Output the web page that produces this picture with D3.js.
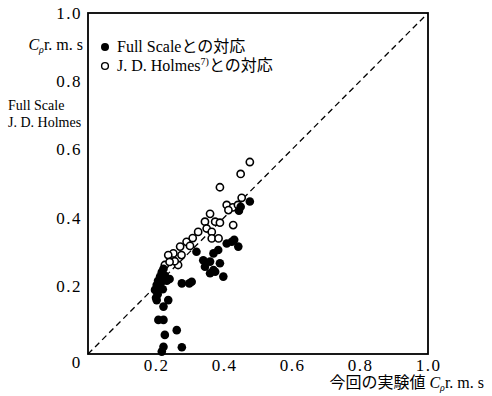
<!DOCTYPE html>
<html>
<head>
<meta charset="utf-8">
<script src="https://cdn.jsdelivr.net/npm/d3@7"></script>
<style>
  body { margin: 0; background: #fff; }
  svg, svg text, svg tspan { font-family: "Times New Roman", "Liberation Serif", "DejaVu Serif", serif; }
  .jp { font-family: "Times New Roman", "Liberation Serif", "DejaVu Serif", "Noto Sans CJK JP", serif; }
</style>
</head>
<body>
<svg id="chart"></svg>
<script>
// ---- data ----
const tickValues = [0.2, 0.4, 0.6, 0.8, 1.0];

// Full Scale (filled circles): [this experiment, full scale]
const fullScaleX = [0.476, 0.449, 0.444, 0.423, 0.442, 0.408, 0.430, 0.383, 0.369, 0.319, 0.339, 0.359,
  0.388, 0.344, 0.369, 0.359, 0.398, 0.374, 0.305, 0.276, 0.298, 0.197, 0.202, 0.212, 0.217, 0.222,
  0.206, 0.226, 0.232, 0.240, 0.215, 0.205, 0.220, 0.200, 0.202, 0.236, 0.222, 0.207, 0.222, 0.261,
  0.226, 0.222, 0.276, 0.217];
const fullScaleY = [0.447, 0.432, 0.420, 0.329, 0.315, 0.324, 0.335, 0.305, 0.295, 0.300, 0.275, 0.271,
  0.266, 0.256, 0.246, 0.237, 0.227, 0.241, 0.212, 0.207, 0.207, 0.188, 0.202, 0.227, 0.240, 0.250,
  0.215, 0.230, 0.215, 0.220, 0.210, 0.175, 0.190, 0.165, 0.158, 0.158, 0.139, 0.100, 0.100, 0.070,
  0.056, 0.021, 0.020, 0.007];

// J. D. Holmes (open circles)
const holmesX = [0.476, 0.449, 0.388, 0.452, 0.408, 0.426, 0.413, 0.441, 0.359, 0.344, 0.374, 0.388,
  0.427, 0.349, 0.364, 0.324, 0.364, 0.384, 0.290, 0.308, 0.271, 0.300, 0.251, 0.236, 0.275, 0.226,
  0.265, 0.255, 0.240];
const holmesY = [0.563, 0.528, 0.489, 0.458, 0.437, 0.430, 0.422, 0.437, 0.411, 0.388, 0.388, 0.385,
  0.378, 0.368, 0.358, 0.358, 0.339, 0.339, 0.329, 0.340, 0.315, 0.317, 0.295, 0.290, 0.290, 0.261,
  0.261, 0.272, 0.270];

const legendLabels = ["Full Scaleとの対応", "J. D. Holmes"];

// ---- layout ----
const svgWidth = 492, svgHeight = 396;
const margin = {top: 13, right: 64, bottom: 42, left: 88};
const width = svgWidth - margin.left - margin.right;
const height = svgHeight - margin.top - margin.bottom;

const svg = d3.select('#chart').attr('width', svgWidth).attr('height', svgHeight);
const chart = svg.append('g').attr('transform', `translate(${margin.left}, ${margin.top})`);

const xScale = d3.scaleLinear().domain([0, 1]).range([0, width]);
const yScale = d3.scaleLinear().domain([0, 1]).range([height, 0]);

/*********** axes (labels only, no tick marks) ***********/
const fmt = d3.format('.1f');
const xAxis = chart.append('g')
  .attr('transform', `translate(0, ${height})`)
  .call(d3.axisBottom(xScale).tickValues(tickValues).tickSize(0).tickPadding(5).tickFormat(fmt));
const yAxis = chart.append('g')
  .call(d3.axisLeft(yScale).tickValues(tickValues).tickSize(0).tickPadding(6).tickFormat(fmt));
[xAxis, yAxis].forEach(a => {
  a.attr('font-family', null).attr('font-size', null);
  a.select('.domain').remove();
  a.selectAll('text')
    .style('font-size', '17px')
    .style('letter-spacing', '1.5px');
});

// origin label
chart.append('text')
  .attr('x', xScale(0) - 12)
  .attr('y', yScale(0) + 14)
  .attr('text-anchor', 'middle')
  .style('font-size', '17px')
  .text('0');

/*********** frame ***********/
chart.append('rect')
  .attr('x', 0).attr('y', 0)
  .attr('width', width).attr('height', height)
  .attr('fill', 'none')
  .attr('stroke', '#000')
  .attr('stroke-width', 1.8);

/*********** 1:1 line ***********/
chart.append('line')
  .attr('x1', xScale(0)).attr('y1', yScale(0))
  .attr('x2', xScale(1)).attr('y2', yScale(1))
  .attr('stroke', '#000')
  .attr('stroke-width', 1.3)
  .attr('stroke-dasharray', '6 4');

/*********** points ***********/
chart.append('g').selectAll('circle')
  .data(d3.range(holmesX.length))
  .join('circle')
  .attr('cx', i => xScale(holmesX[i]))
  .attr('cy', i => yScale(holmesY[i]))
  .attr('r', 3.6)
  .attr('fill', '#fff')
  .attr('stroke', '#000')
  .attr('stroke-width', 1.6);

chart.append('g').selectAll('circle')
  .data(d3.range(fullScaleX.length))
  .join('circle')
  .attr('cx', i => xScale(fullScaleX[i]))
  .attr('cy', i => yScale(fullScaleY[i]))
  .attr('r', 4.3)
  .attr('fill', '#000');

/*********** legend ***********/
const legend = chart.append('g').attr('transform', 'translate(17, 34)');
legend.append('circle').attr('cx', 0).attr('cy', 0).attr('r', 4).attr('fill', '#000');
legend.append('text').attr('class', 'jp').attr('x', 12).attr('y', 5).style('font-size', '16px').text(legendLabels[0]);
legend.append('circle').attr('cx', 0).attr('cy', 19).attr('r', 3.4)
  .attr('fill', '#fff').attr('stroke', '#000').attr('stroke-width', 1.4);
const l2 = legend.append('text').attr('class', 'jp').attr('x', 12).attr('y', 24).style('font-size', '16px');
l2.append('tspan').text(legendLabels[1]);
l2.append('tspan').attr('dy', -6).style('font-size', '10px').text('7)');
l2.append('tspan').attr('class', 'jp').attr('dy', 6).text('との対応');

/*********** axis titles ***********/
function cprms(sel) {
  sel.append('tspan').style('font-style', 'italic').text('C');
  sel.append('tspan').attr('dy', 3).style('font-style', 'italic').style('font-size', '10px').text('ρ');
  sel.append('tspan').attr('dy', -3).text('r. m. s');
}

const yTitle = svg.append('text')
  .attr('x', 83).attr('y', 50)
  .attr('text-anchor', 'end')
  .style('font-size', '16px');
cprms(yTitle);

svg.append('text')
  .attr('x', 8).attr('y', 110)
  .style('font-size', '14px')
  .text('Full Scale');
svg.append('text')
  .attr('x', 8).attr('y', 127)
  .style('font-size', '14px')
  .text('J. D. Holmes');

const xTitle = svg.append('text')
  .attr('class', 'jp')
  .attr('x', 484).attr('y', 388)
  .attr('text-anchor', 'end')
  .style('font-size', '16px');
xTitle.append('tspan').attr('class', 'jp').text('今回の実験値 ');
cprms(xTitle);
</script>
</body>
</html>
